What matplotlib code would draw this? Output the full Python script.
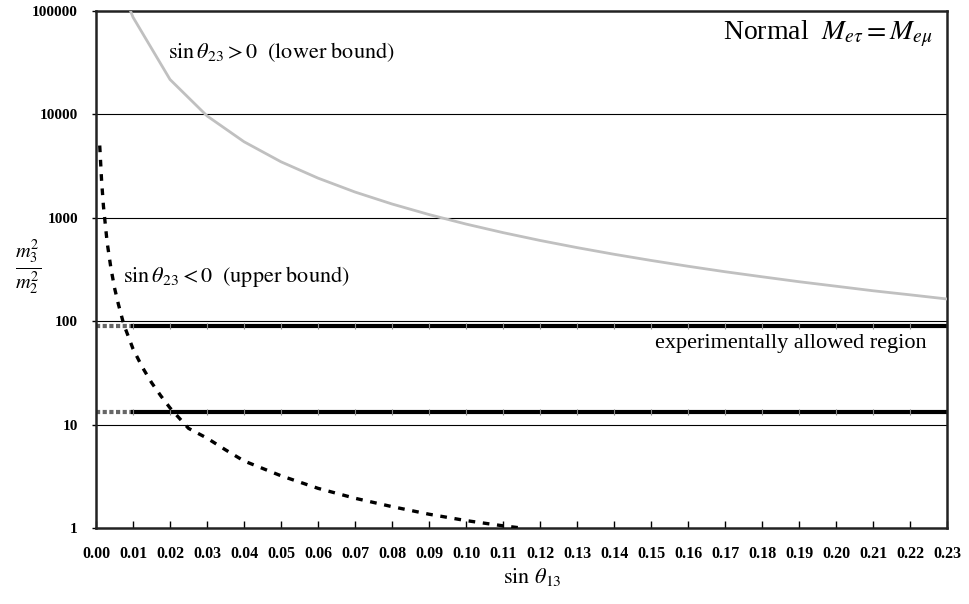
import matplotlib
matplotlib.use("Agg")
import matplotlib.pyplot as plt

plt.rcParams['mathtext.fontset'] = 'stix'
plt.rcParams['font.family'] = ['Liberation Serif', 'DejaVu Serif']

# grey curve: sin(theta23) > 0, lower bound
lower_x = [0.009, 0.01, 0.02, 0.03, 0.04, 0.05, 0.06, 0.07, 0.08, 0.09, 0.10, 0.11,
           0.12, 0.13, 0.14, 0.15, 0.16, 0.17, 0.18, 0.19, 0.20, 0.21, 0.22, 0.23]
lower_y = [107000, 87000, 21750, 9670, 5440, 3480, 2420, 1775, 1360, 1075, 870, 719,
           604, 515, 444, 387, 340, 301, 269, 241, 218, 197, 180, 164]

# dashed curve: sin(theta23) < 0, upper bound
upper_x = [0.001, 0.0015, 0.002, 0.003, 0.004, 0.005, 0.006, 0.0075, 0.01, 0.0125,
           0.015, 0.0175, 0.02, 0.025, 0.03, 0.035, 0.04, 0.05, 0.06, 0.07, 0.08,
           0.09, 0.10, 0.11, 0.115]
upper_y = [5000, 2300, 1300, 580, 330, 210, 148, 93, 54, 36,
           25.5, 19, 14.5, 9.2, 7.4, 5.7, 4.45, 3.2, 2.42, 1.94, 1.61,
           1.36, 1.18, 1.05, 1.0]

# experimentally allowed band
band_hi = 89.0
band_lo = 13.3
band_x = [0.00, 0.01, 0.02, 0.03, 0.04, 0.05, 0.06, 0.07, 0.08, 0.09, 0.10, 0.11,
          0.12, 0.13, 0.14, 0.15, 0.16, 0.17, 0.18, 0.19, 0.20, 0.21, 0.22, 0.23]

x_ticks = [i / 100 for i in range(24)]
y_ticks = [1, 10, 100, 1000, 10000, 100000]

fig = plt.figure(figsize=(9.69, 6.04), dpi=100)
ax = fig.add_axes([0.0991, 0.1258, 0.8782, 0.856])
ax.set_yscale('log')
ax.set_xlim(0, 0.23)
ax.set_ylim(1, 100000)

for g in [10, 100, 1000, 10000]:
    ax.axhline(g, color='black', lw=0.8, zorder=1)

# band lines (first segment lighter/dotted, then solid black with small markers)
for yv in [band_hi, band_lo]:
    ax.plot(band_x[:2], [yv, yv], color='#666666', lw=3, ls=(0, (1, 0.6)), zorder=2)
    ax.plot(band_x[1:], [yv] * len(band_x[1:]), color='black', lw=3,
            marker='|', ms=5, mec='#888888', mew=0.8, zorder=2)

ax.plot(lower_x, lower_y, color='#c0c0c0', lw=2, zorder=3)
ax.plot(upper_x, upper_y, color='black', lw=2.4, ls=(0, (2, 2.3)), zorder=3)

ax.set_xticks(x_ticks)
ax.set_xticklabels(['%.2f' % v for v in x_ticks])
ax.set_yticks(y_ticks)
ax.set_yticklabels([str(v) for v in y_ticks])
ax.yaxis.set_minor_locator(matplotlib.ticker.NullLocator())
ax.tick_params(axis='x', direction='in', length=5, width=1, pad=13, labelsize=11.5)
ax.tick_params(axis='y', direction='out', length=3, width=1, pad=10, labelsize=11)
for lab in ax.get_xticklabels() + ax.get_yticklabels():
    lab.set_fontweight('bold')
for s in ax.spines.values():
    s.set_linewidth(1.8)
    s.set_color('#222222')

ax.text(0.2262, 60000, r'Normal  $M_{e\tau}=M_{e\mu}$', fontsize=20, ha='right', va='center')
ax.text(0.0195, 40000, r'$\sin\theta_{23}>0\ \ (\mathrm{lower\ bound})$', fontsize=16, va='center')
ax.text(0.0072, 270, r'$\sin\theta_{23}<0\ \ (\mathrm{upper\ bound})$', fontsize=16, va='center')
ax.text(0.2245, 61, 'experimentally allowed region', fontsize=16, ha='right', va='center')

fig.text(0.549, 0.045, r'$\sin\,\theta_{13}$', fontsize=16, ha='center', va='center')
fig.text(0.029, 0.557, r'$\frac{m_3^2}{m_2^2}$', fontsize=21, ha='center', va='center')

fig.savefig('out.png', dpi=100)
